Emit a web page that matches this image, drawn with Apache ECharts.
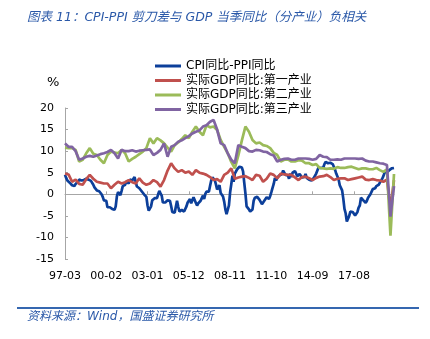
<!DOCTYPE html>
<html>
<head>
<meta charset="utf-8">
<script src="https://cdn.jsdelivr.net/npm/echarts@6/dist/echarts.min.js"></script>
<style>
html,body{margin:0;padding:0;background:#fff;}
#c{width:430px;height:339px;}
</style>
</head>
<body>
<div id="c"></div>
<script>
// ---- data ----
const titleText = '图表 11：CPI-PPI 剪刀差与 GDP 当季同比（分产业）负相关';
const sourceText = '资料来源：Wind，国盛证券研究所';
const seriesNames = ['CPI同比-PPI同比', '实际GDP同比:第一产业', '实际GDP同比:第二产业', '实际GDP同比:第三产业'];
const yTicks = [-15, -10, -5, 0, 5, 10, 15, 20];

// monthly CPI YoY - PPI YoY, 1997-03 .. 2020-06
const cpiPpi = [
  4.5,3.8,3.2,2.9,2.7,2.3,2.1,1.9,1.9,2.4,
  2.8,2.9,3.4,3.3,3.2,3.2,3.3,3.5,3.6,3.6,3.4,3.3,
  3.1,2.9,2.2,1.6,1.2,0.9,1.1,0.7,0.4,0.0,-0.6,-1.4,
  -1.8,-1.5,-3.0,-3.0,-3.0,-2.8,-3.4,-3.8,-3.6,-2.8,-0.5,0.5,
  0.4,-0.2,0.8,1.9,2.1,2.2,3.0,3.0,2.5,3.4,3.3,3.2,
  3.1,4.0,2.8,1.8,1.5,1.4,1.0,0.7,0.4,0.0,-0.2,-0.6,
  -2.6,-3.8,-3.7,-2.8,-1.4,-1.0,-0.9,-0.8,-0.9,0.0,0.8,0.2,
  -0.3,-1.9,-1.9,-1.9,-2.2,-1.4,-1.1,-1.5,-2.7,-4.1,-4.5,-4.3,
  -3.9,-1.5,-2.9,-4.0,-4.1,-3.6,-3.4,-4.0,-3.7,-2.8,-1.9,-1.6,
  -1.1,-2.1,-1.7,-0.7,-1.0,-2.0,-2.6,-2.1,-2.0,-1.5,-0.9,-0.3,
  -1.1,0.1,0.6,0.2,0.6,1.9,3.2,3.9,3.5,3.3,2.3,1.1,
  1.0,2.1,0.3,0.4,-0.5,-1.7,-3.5,-4.6,-4.2,-2.6,0.4,2.3,
  4.3,2.9,4.8,5.1,5.8,6.1,6.4,6.5,6.2,5.3,2.7,0.2,
  -2.8,-2.7,-3.5,-4.0,-4.0,-3.5,-1.5,-0.8,-0.7,-0.6,-1.0,-1.3,
  -1.7,-2.3,-1.9,-1.5,-1.3,-0.7,-1.0,-1.1,-0.4,0.5,1.5,2.4,
  3.8,3.2,3.9,4.1,4.4,4.3,4.7,5.5,5.5,4.5,4.2,4.4,
  3.6,4.8,4.0,5.0,5.0,5.4,5.0,4.2,4.4,4.7,4.4,3.9,
  4.1,4.0,4.7,3.8,3.9,3.4,3.2,3.2,3.4,3.8,4.1,4.8,
  5.1,6.2,6.0,6.1,5.8,6.2,7.0,7.5,7.3,7.2,7.3,7.3,
  7.1,7.0,6.6,5.7,4.8,4.5,3.5,2.1,1.8,0.9,-1.0,-3.4,
  -4.4,-6.3,-6.0,-5.0,-4.0,-4.0,-4.1,-4.5,-4.9,-4.8,-4.1,-3.1,
  -2.6,-0.8,-1.0,-1.4,-1.8,-2.0,-1.5,-0.8,-0.4,0.0,0.4,1.2,
  1.6,1.4,1.9,1.8,2.2,2.7,3.1,3.6,4.2,5.0,5.5,5.0,
  5.3,5.6,5.8,6.0,6.0,6.1
];

// quarterly real GDP YoY by industry, 1997Q1 .. 2020Q2
const gdpPrimary = [
  4.8,4.6,2.9,3.4, 2.4,2.2,3.5,4.5, 3.6,2.9,2.7,2.5, 2.5,1.4,2.2,2.9,
  2.5,2.8,3.3,2.8, 2.5,3.7,2.7,2.2, 2.5,3.3,2.8,1.8, 3.3,5.5,7.2,6.0,
  5.2,5.6,5.0,5.3, 4.5,5.6,5.0,4.8, 4.5,4.0,3.3,3.5, 2.9,4.5,5.0,6.0,
  3.6,3.9,4.1,4.2, 3.8,3.3,4.5,4.3, 2.9,3.6,4.8,4.5, 3.7,4.8,4.6,4.5,
  4.5,3.9,3.3,4.0, 4.1,3.7,3.3,3.8, 4.1,4.2,4.5,4.0, 3.3,3.6,3.7,3.7,
  3.3,3.5,3.7,3.9, 4.1,3.4,3.3,3.5, 3.3,3.2,2.9,3.4, -3.2,3.3
];
const gdpSecondary = [
  10.8,10.7,10.7,10.3, 7.6,8.0,9.5,10.7, 9.4,9.1,8.0,7.2, 9.1,9.9,9.7,9.5,
  10.3,9.5,7.6,8.2, 8.7,9.3,9.9,10.7, 13.0,11.8,13.0,12.5, 11.8,10.8,9.9,11.4,
  12.0,12.8,13.7,13.0, 14.5,15.7,14.5,13.7, 16.0,15.5,15.7,14.9, 12.6,11.0,9.5,7.5,
  6.0,9.0,12.5,15.7, 14.5,12.6,11.8,12.0, 11.4,11.2,10.7,9.6, 9.1,7.6,8.0,8.1,
  7.6,7.6,7.9,7.8, 7.2,7.2,6.8,7.0, 6.1,6.0,5.9,6.0, 5.9,6.3,6.1,6.1,
  6.3,6.4,6.1,5.8, 6.0,6.0,5.8,5.8, 6.1,5.6,5.2,5.8, -9.6,4.7
];
const gdpTertiary = [
  11.8,11.0,11.0,10.0, 8.0,8.3,8.7,8.9, 8.7,9.0,9.3,9.5, 9.8,10.3,9.5,8.3,
  10.3,10.0,10.0,10.2, 9.9,10.1,10.2,10.3, 10.4,9.1,9.6,10.3, 11.8,8.7,11.0,11.4,
  12.2,12.5,13.0,13.5, 14.1,14.5,14.8,15.7, 16.0,16.8,17.2,15.0, 11.8,11.4,9.5,8.0,
  7.2,11.4,11.0,10.7, 10.0,9.9,10.3,10.2, 9.9,9.8,9.3,9.0, 7.6,8.0,8.2,8.3,
  8.0,8.0,8.3,8.3, 8.3,8.2,8.0,8.2, 9.1,8.7,8.6,8.0, 8.0,8.1,8.0,8.3,
  8.3,8.3,8.3,8.2, 8.3,7.8,7.6,7.6, 7.4,7.2,7.1,6.8, -5.2,1.9
];

// ---- categories (monthly, YY-MM) ----
const months = [];
for (let y = 1997, m = 3; months.length < cpiPpi.length; ) {
  months.push(String(y % 100).padStart(2, '0') + '-' + String(m).padStart(2, '0'));
  m++; if (m > 12) { m = 1; y++; }
}
function toMonthly(q) {
  const a = new Array(months.length).fill(null);
  q.forEach((v, k) => { a[3 * k] = v; });
  return a;
}

const FONT = "'DejaVu Sans', 'Noto Sans CJK SC', sans-serif";
const colors = ['#0C3F9A', '#C0504D', '#9BBB59', '#8064A2'];
const chart = echarts.init(document.getElementById('c'), null, { renderer: 'canvas' });

const mkLine = (name, data, color) => ({
  name, type: 'line', data, xAxisIndex: 0, yAxisIndex: 0,
  symbol: 'none', showSymbol: false, connectNulls: true, smooth: false,
  lineStyle: { color, width: 2.7 }, itemStyle: { color },
  emphasis: { disabled: true }
});

chart.setOption({
  animation: false,
  backgroundColor: '#fff',
  textStyle: { fontFamily: FONT },
  grid: { left: 65, right: 36, top: 108, bottom: 80, containLabel: false },
  legend: {
    orient: 'vertical', left: 150, top: 55,
    icon: 'rect', itemWidth: 26, itemHeight: 3, itemGap: 2.5,
    textStyle: { fontSize: 12, color: '#000', fontFamily: FONT, lineHeight: 12 },
    data: seriesNames
  },
  xAxis: [
    {
      type: 'category', data: months, boundaryGap: false, position: 'bottom',
      axisLine: { show: false, onZero: false }, axisTick: { show: false },
      axisLabel: { interval: 34, fontSize: 11, color: '#000', margin: 12, fontFamily: FONT },
      splitLine: { show: false }
    },
    {
      type: 'category', data: months, boundaryGap: false, position: 'bottom',
      axisLine: { show: true, onZero: true, lineStyle: { color: '#A6A6A6', width: 1 } },
      axisTick: { show: true, inside: true, interval: 34, length: 3, lineStyle: { color: '#A6A6A6' } },
      axisLabel: { show: false }, splitLine: { show: false }
    }
  ],
  yAxis: {
    type: 'value', min: yTicks[0], max: yTicks[yTicks.length - 1], interval: 5,
    axisLine: { show: true, lineStyle: { color: '#A6A6A6' } },
    axisTick: { show: true, inside: true, length: 3, lineStyle: { color: '#A6A6A6' } },
    axisLabel: { fontSize: 11, color: '#000', margin: 11, fontFamily: FONT },
    splitLine: { show: false }
  },
  series: [
    mkLine(seriesNames[0], cpiPpi, colors[0]),
    mkLine(seriesNames[1], toMonthly(gdpPrimary), colors[1]),
    mkLine(seriesNames[2], toMonthly(gdpSecondary), colors[2]),
    mkLine(seriesNames[3], toMonthly(gdpTertiary), colors[3])
  ],
  graphic: [
    { type: 'text', left: 27, top: 11, style: { text: titleText, font: 'italic 12.5px ' + FONT, fill: '#2A58A8' } },
    { type: 'text', left: 47, top: 76, style: { text: '%', font: '13px ' + FONT, fill: '#000' } },
    { type: 'line', shape: { x1: 17, y1: 308, x2: 419, y2: 308 }, style: { stroke: '#3567B0', lineWidth: 2 } },
    { type: 'text', left: 27, top: 311, style: { text: sourceText, font: 'italic 12px ' + FONT, fill: '#2A58A8' } }
  ]
});
</script>
</body>
</html>
